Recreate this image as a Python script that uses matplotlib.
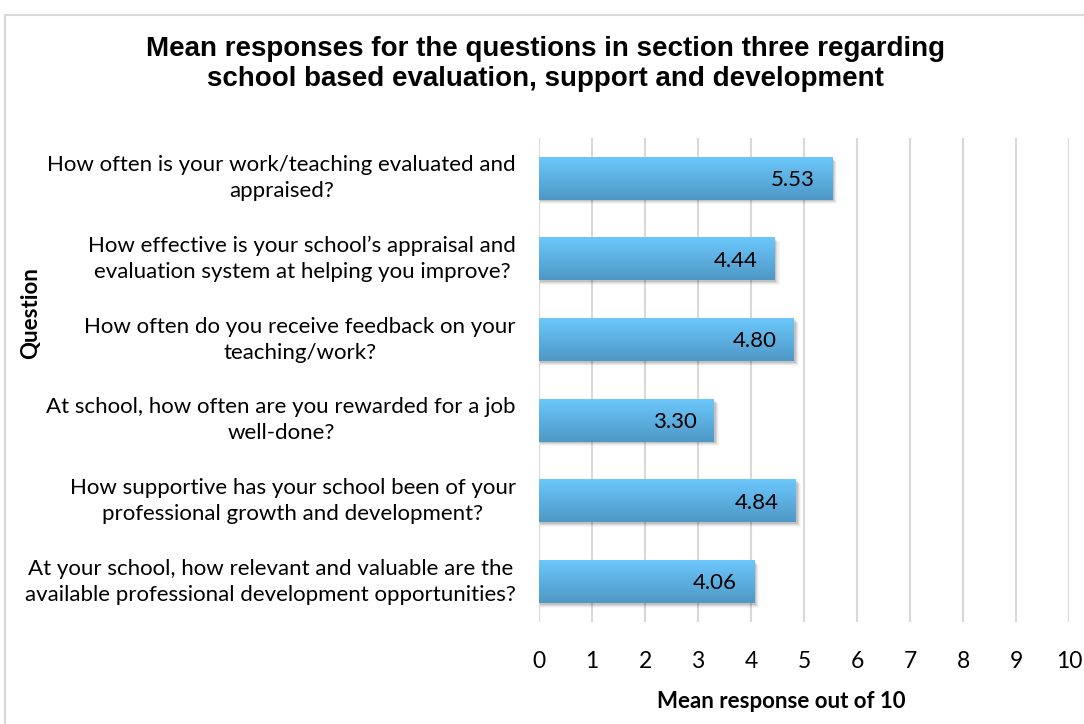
import numpy as np
import matplotlib
matplotlib.use("Agg")
import matplotlib.pyplot as plt
from matplotlib.patches import Rectangle
from matplotlib.transforms import blended_transform_factory

# questions (top to bottom) and their mean scores
questions = [
    "How often is your work/teaching evaluated and\nappraised?",
    "How effective is your school\u2019s appraisal and\nevaluation system at helping you improve?",
    "How often do you receive feedback on your\nteaching/work?",
    "At school, how often are you rewarded for a job\nwell-done?",
    "How supportive has your school been of your\nprofessional growth and development?",
    "At your school, how relevant and valuable are the\navailable professional development opportunities?",
]
means = [5.53, 4.44, 4.80, 3.30, 4.84, 4.06]
xticks = list(range(0, 11))

title = ("Mean responses for the questions in section three regarding\n"
         "school based evaluation, support and development")
xlabel = "Mean response out of 10"
ylabel = "Question"

label_font = "Lato"
title_font = "Liberation Sans"

fig = plt.figure(figsize=(10.84, 7.24), dpi=100)
fig.patch.set_facecolor("white")

# outer chart frame (runs off the right/bottom edge)
fig.add_artist(Rectangle((5 / 1084, -0.1), 1.2, 1 - 15 / 724 + 0.1,
                         transform=fig.transFigure, fill=False,
                         edgecolor="#d9d9d9", lw=1.5))

ax = fig.add_axes([539 / 1084, 1 - 622 / 724, (1069 - 539) / 1084, (622 - 138) / 724])
n = len(means)

# vertical gridlines
for t in xticks:
    ax.axvline(t, color="#d9d9d9", lw=1.5, zorder=0)

bar_h = 0.53
grad = np.linspace(0, 1, 64).reshape(-1, 1)
top = np.array([0x6c, 0xc7, 0xfb]) / 255
bot = np.array([0x4e, 0x98, 0xc6]) / 255
img = (top + (bot - top) * grad).reshape(64, 1, 3)

for i, v in enumerate(means):
    # soft drop shadow
    for k, a in enumerate([0.10, 0.07, 0.05, 0.03]):
        d = 0.02 + k * 0.012
        ax.add_patch(Rectangle((0.02, i - bar_h / 2 + d), v + 0.02 + k * 0.02, bar_h,
                               facecolor="black", alpha=a, lw=0, zorder=1))
    ax.imshow(img, extent=(0, v, i + bar_h / 2, i - bar_h / 2), aspect="auto",
              interpolation="bilinear", zorder=2)
    ax.text(v - 0.32, i + 0.02, f"{v:.2f}", ha="right", va="center",
            fontsize=16, family=label_font, color="black", zorder=3)

ax.set_xlim(0, 10)
ax.set_ylim(n - 0.5, -0.5)

# category labels: right-aligned blocks, lines centred inside each block
trans = blended_transform_factory(fig.transFigure, ax.transData)
for i, q in enumerate(questions):
    fig.text(516 / 1084, i, q, transform=trans, ha="right", va="center",
             multialignment="center", fontsize=16, family=label_font,
             linespacing=1.38)
ax.set_yticks([])

ax.set_xticks(xticks)
ax.set_xticklabels([str(t) for t in xticks], fontsize=16.5, family=label_font)
ax.tick_params(axis="both", length=0)
ax.tick_params(axis="x", pad=21)
for s in ax.spines.values():
    s.set_visible(False)

fig.text(781 / 1084, 1 - 702 / 724, xlabel, ha="center", va="center",
         fontsize=16, family=label_font, fontweight="bold")
fig.text(31 / 1084, 1 - 313 / 724, ylabel, ha="center", va="center",
         rotation=90, fontsize=16, family=label_font, fontweight="bold")
fig.text(545 / 1084, 1 - 64 / 724, title, ha="center", va="center",
         fontsize=20, family=title_font, fontweight="bold", linespacing=1.2)

fig.savefig("out.png", dpi=100)
